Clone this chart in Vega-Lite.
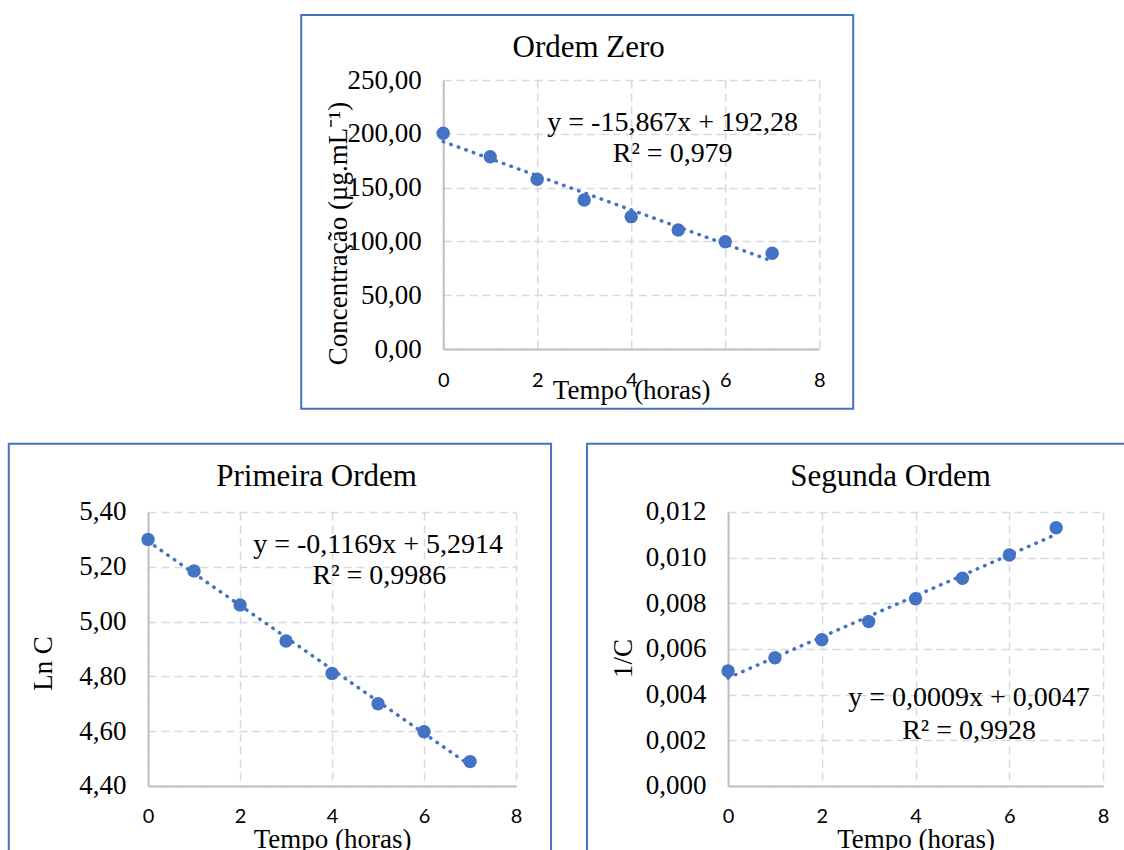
{
  "$schema": "https://vega.github.io/schema/vega-lite/v6.json",
  "padding": {"left": 7.7, "top": 14, "right": 0, "bottom": 0},
  "background": "white",
  "datasets": {
    "d": [
      {"t": 0, "C": 200.5, "lnC": 5.300, "invC": 0.00504},
      {"t": 1, "C": 178.7, "lnC": 5.185, "invC": 0.00562},
      {"t": 2, "C": 157.7, "lnC": 5.061, "invC": 0.00641},
      {"t": 3, "C": 138.5, "lnC": 4.929, "invC": 0.00720},
      {"t": 4, "C": 123.0, "lnC": 4.811, "invC": 0.00820},
      {"t": 5, "C": 110.6, "lnC": 4.700, "invC": 0.00910},
      {"t": 6, "C": 99.7, "lnC": 4.598, "invC": 0.01012},
      {"t": 7, "C": 89.0, "lnC": 4.489, "invC": 0.01131}
    ]
  },
  "vconcat": [
    {
      "width": 376,
      "height": 269,
      "title": {"text": "Ordem Zero", "dx": -42.5, "offset": -50},
      "layer": [
        {
          "data": {"values": [{}]},
          "mark": {"type": "rect", "filled": false, "stroke": "#4472C4", "strokeWidth": 2, "clip": false},
          "encoding": {
            "x": {"datum": -3.021, "type": "quantitative"},
            "x2": {"datum": 8.723},
            "y": {"datum": 310.4, "type": "quantitative"},
            "y2": {"datum": -55.5}
          }
        },
        {
          "data": {"name": "d"},
          "mark": {"type": "circle", "size": 180, "color": "#4472C4", "opacity": 1},
          "encoding": {
            "x": {"field": "t", "type": "quantitative", "scale": {"domain": [0, 8], "nice": false, "zero": false},
                  "axis": {"title": "Tempo (horas)", "values": [0, 2, 4, 6, 8], "format": "d", "titleY": 49}},
            "y": {"field": "C", "type": "quantitative", "scale": {"domain": [0, 250], "nice": false, "zero": false},
                  "axis": {"title": "Concentração (µg.mL⁻¹)", "values": [0, 50, 100, 150, 200, 250], "format": ".2f", "titleY": 153}}
          }
        },
        {
          "data": {"name": "d"},
          "transform": [{"regression": "C", "on": "t"}],
          "mark": {"type": "line", "color": "#4472C4", "strokeWidth": 3.5, "strokeDash": [0.5, 7.5], "strokeCap": "round"},
          "encoding": {
            "x": {"field": "t", "type": "quantitative"},
            "y": {"field": "C", "type": "quantitative"}
          }
        },
        {
          "data": {"values": [{}]},
          "mark": {"type": "text", "font": "Liberation Serif", "fontSize": 28, "align": "center", "baseline": "alphabetic", "color": "black"},
          "encoding": {"x": {"datum": 4.883}, "y": {"datum": 202.6}, "text": {"value": "y = -15,867x + 192,28"}}
        },
        {
          "data": {"values": [{}]},
          "mark": {"type": "text", "font": "Liberation Serif", "fontSize": 28, "align": "center", "baseline": "alphabetic", "color": "black"},
          "encoding": {"x": {"datum": 4.883}, "y": {"datum": 173.8}, "text": {"value": "R² = 0,979"}}
        }
      ]
    },
    {
      "hconcat": [
        {
          "width": 368,
          "height": 274,
          "title": {"text": "Primeira Ordem", "dx": -15.5, "offset": -50},
          "layer": [
            {
              "data": {"values": [{}]},
              "mark": {"type": "rect", "filled": false, "stroke": "#4472C4", "strokeWidth": 2, "clip": false},
              "encoding": {
                "x": {"datum": -3.028, "type": "quantitative"},
                "x2": {"datum": 8.761},
                "y": {"datum": 5.6493, "type": "quantitative"},
                "y2": {"datum": 4.0898}
              }
            },
            {
              "data": {"name": "d"},
              "mark": {"type": "circle", "size": 180, "color": "#4472C4", "opacity": 1},
              "encoding": {
                "x": {"field": "t", "type": "quantitative", "scale": {"domain": [0, 8], "nice": false, "zero": false},
                      "axis": {"title": "Tempo (horas)", "values": [0, 2, 4, 6, 8], "format": "d", "titleY": 62}},
                "y": {"field": "lnC", "type": "quantitative", "scale": {"domain": [4.4, 5.4], "nice": false, "zero": false},
                      "axis": {"title": "Ln C", "values": [4.4, 4.6, 4.8, 5.0, 5.2, 5.4], "format": ".2f", "titleY": 151}}
              }
            },
            {
              "data": {"name": "d"},
              "transform": [{"regression": "lnC", "on": "t"}],
              "mark": {"type": "line", "color": "#4472C4", "strokeWidth": 3.5, "strokeDash": [0.5, 7.5], "strokeCap": "round"},
              "encoding": {
                "x": {"field": "t", "type": "quantitative"},
                "y": {"field": "lnC", "type": "quantitative"}
              }
            },
            {
              "data": {"values": [{}]},
              "mark": {"type": "text", "font": "Liberation Serif", "fontSize": 28, "align": "center", "baseline": "alphabetic", "color": "black"},
              "encoding": {"x": {"datum": 5.0}, "y": {"datum": 5.2504}, "text": {"value": "y = -0,1169x + 5,2914"}}
            },
            {
              "data": {"values": [{}]},
              "mark": {"type": "text", "font": "Liberation Serif", "fontSize": 28, "align": "center", "baseline": "alphabetic", "color": "black"},
              "encoding": {"x": {"datum": 5.03}, "y": {"datum": 5.1372}, "text": {"value": "R² = 0,9986"}}
            }
          ]
        },
        {
          "width": 375,
          "height": 274,
          "title": {"text": "Segunda Ordem", "dx": -25, "offset": -50},
          "layer": [
            {
              "data": {"values": [{}]},
              "mark": {"type": "rect", "filled": false, "stroke": "#4472C4", "strokeWidth": 2, "clip": false},
              "encoding": {
                "x": {"datum": -3.008, "type": "quantitative"},
                "x2": {"datum": 8.966},
                "y": {"datum": 0.014991, "type": "quantitative"},
                "y2": {"datum": -0.003723}
              }
            },
            {
              "data": {"name": "d"},
              "mark": {"type": "circle", "size": 180, "color": "#4472C4", "opacity": 1},
              "encoding": {
                "x": {"field": "t", "type": "quantitative", "scale": {"domain": [0, 8], "nice": false, "zero": false},
                      "axis": {"title": "Tempo (horas)", "values": [0, 2, 4, 6, 8], "format": "d", "titleY": 62}},
                "y": {"field": "invC", "type": "quantitative", "scale": {"domain": [0, 0.012], "nice": false, "zero": false},
                      "axis": {"title": "1/C", "values": [0, 0.002, 0.004, 0.006, 0.008, 0.010, 0.012], "format": ".3f", "titleY": 146}}
              }
            },
            {
              "data": {"name": "d"},
              "transform": [{"regression": "invC", "on": "t"}],
              "mark": {"type": "line", "color": "#4472C4", "strokeWidth": 3.5, "strokeDash": [0.5, 7.5], "strokeCap": "round"},
              "encoding": {
                "x": {"field": "t", "type": "quantitative"},
                "y": {"field": "invC", "type": "quantitative"}
              }
            },
            {
              "data": {"values": [{}]},
              "mark": {"type": "text", "font": "Liberation Serif", "fontSize": 28, "align": "center", "baseline": "alphabetic", "color": "black"},
              "encoding": {"x": {"datum": 5.141}, "y": {"datum": 0.003504}, "text": {"value": "y = 0,0009x + 0,0047"}}
            },
            {
              "data": {"values": [{}]},
              "mark": {"type": "text", "font": "Liberation Serif", "fontSize": 28, "align": "center", "baseline": "alphabetic", "color": "black"},
              "encoding": {"x": {"datum": 5.141}, "y": {"datum": 0.002058}, "text": {"value": "R² = 0,9928"}}
            }
          ]
        }
      ],
      "spacing": 33
    }
  ],
  "spacing": 32,
  "center": true,
  "config": {
    "locale": {"number": {"decimal": ",", "thousands": ".", "grouping": [3], "currency": ["", ""]}},
    "view": {"stroke": null},
    "axis": {
      "grid": true,
      "gridColor": "#d9d9d9",
      "gridDash": [8, 5],
      "gridWidth": 1.5,
      "domainColor": "#bfbfbf",
      "domainWidth": 2,
      "ticks": false,
      "labelColor": "#000000",
      "labelFlush": false,
      "labelOverlap": false,
      "titleColor": "#000000",
      "titleFont": "Liberation Serif",
      "titleFontSize": 27,
      "titleFontWeight": "normal",
      "titleBaseline": "alphabetic"
    },
    "axisX": {"labelFont": "Lato", "labelFontSize": 20, "labelPadding": 21, "titleAlign": "center"},
    "axisY": {"labelFont": "Liberation Serif", "labelFontSize": 27, "labelPadding": 22, "titleAngle": -90, "titleAlign": "center", "titleX": -97},
    "title": {"font": "Liberation Serif", "fontSize": 31, "fontWeight": "normal", "color": "#000000", "frame": "group", "anchor": "middle", "baseline": "alphabetic"}
  }
}
